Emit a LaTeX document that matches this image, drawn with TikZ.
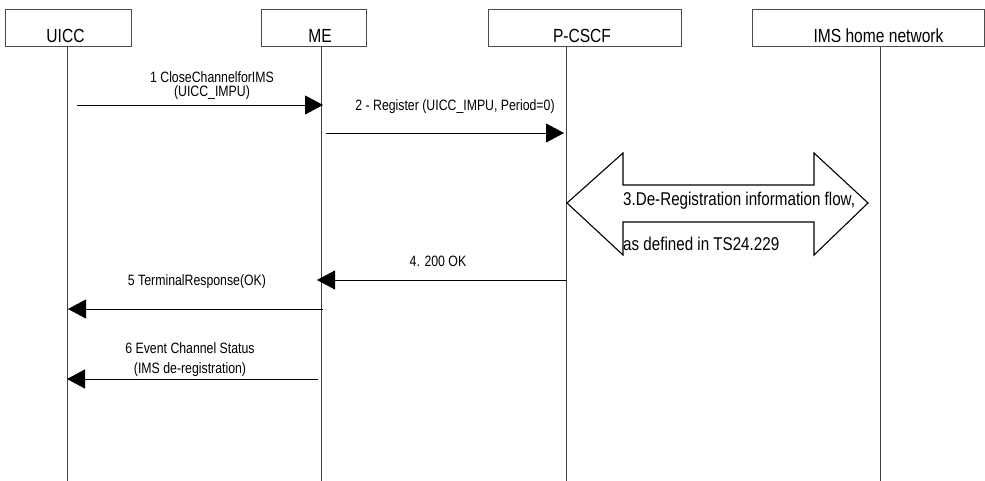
\documentclass[tikz,border=0pt]{standalone}
\usepackage{fontspec}
\setmainfont[FakeStretch=0.82]{Liberation Sans}
\usetikzlibrary{arrows.meta}
\begin{document}
\begin{tikzpicture}[x=1pt,y=-1pt,
  entity/.style={draw=black!70, line width=0.9pt, fill=white, inner sep=0pt},
  entitylabel/.style={font=\fontsize{19}{22}\selectfont, anchor=base, inner sep=0pt},
  lifeline/.style={draw=black!75, line width=0.9pt},
  msg/.style={draw=black, line width=0.9pt, -{Triangle[length=18pt,width=19pt]}},
  msglabel/.style={font=\fontsize{15}{18}\selectfont, anchor=base, inner sep=0pt},
  flowlabel/.style={font=\fontsize{18.5}{22}\selectfont, anchor=base west, inner sep=0pt}]
\useasboundingbox[fill=white] (0,0) rectangle (985,481);

% entity boxes
\node[entity, minimum width=126pt, minimum height=37pt] (uicc) at (68,27.5) {};
\node[entity, minimum width=105pt, minimum height=37pt] (me) at (313.5,27.5) {};
\node[entity, minimum width=193pt, minimum height=37pt] (pcscf) at (584.5,27.5) {};
\node[entity, minimum width=232pt, minimum height=37pt] (ims) at (868,27.5) {};
\node[entitylabel] (uiccl) at (65.5,43) {UICC};
\node[entitylabel] (mel) at (320,43) {ME};
\node[entitylabel] (pcscfl) at (582,43) {P-CSCF};
\node[entitylabel] (imsl) at (878.5,43) {IMS home network};

% lifelines
\coordinate (uT) at (67,46);  \coordinate (uB) at (67,481);
\coordinate (mT) at (321,46); \coordinate (mB) at (321,481);
\coordinate (pT) at (566,46); \coordinate (pB) at (566,481);
\coordinate (iT) at (880,46); \coordinate (iB) at (880,481);
\draw[lifeline] (uT) -- (uB);
\draw[lifeline] (mT) -- (mB);
\draw[lifeline] (pT) -- (pB);
\draw[lifeline] (iT) -- (iB);

% 1: UICC -> ME
\coordinate (m1s) at (77,105);  \coordinate (m1e) at (323,105);
\draw[msg] (m1s) -- (m1e);
\node[msglabel] (m1a) at (212,83) {1 CloseChannelforIMS};
\node[msglabel] (m1b) at (212,97) {(UICC\_IMPU)};

% 2: ME -> P-CSCF
\coordinate (m2s) at (326,133); \coordinate (m2e) at (564,133);
\draw[msg] (m2s) -- (m2e);
\node[msglabel] (m2a) at (455,111) {2 - Register (UICC\_IMPU, Period=0)};

% 3: de-registration flow between P-CSCF and IMS home network
\draw[draw=black, line width=1.1pt, fill=white, line join=miter]
  (567,203) -- (623,153) -- (623,185) -- (814,185) -- (814,153) -- (868,203)
  -- (814,255) -- (814,222) -- (623,222) -- (623,255) -- cycle;
\node[flowlabel] (m3a) at (623,206) {3.De-Registration information flow,};
\node[flowlabel] (m3b) at (623,251) {as defined in TS24.229};

% 4: P-CSCF -> ME
\coordinate (m4s) at (566,280); \coordinate (m4e) at (317,280);
\draw[msg] (m4s) -- (m4e);
\node[msglabel] (m4a) at (438,266) {4. 200 OK};

% 5: ME -> UICC
\coordinate (m5s) at (323,309); \coordinate (m5e) at (68,309);
\draw[msg] (m5s) -- (m5e);
\node[msglabel] (m5a) at (197,285) {5 TerminalResponse(OK)};

% 6: ME -> UICC
\coordinate (m6s) at (318,379); \coordinate (m6e) at (67,379);
\draw[msg] (m6s) -- (m6e);
\node[msglabel] (m6a) at (190,353) {6 Event Channel Status};
\node[msglabel] (m6b) at (190,373) {(IMS de-registration)};
\end{tikzpicture}
\end{document}
